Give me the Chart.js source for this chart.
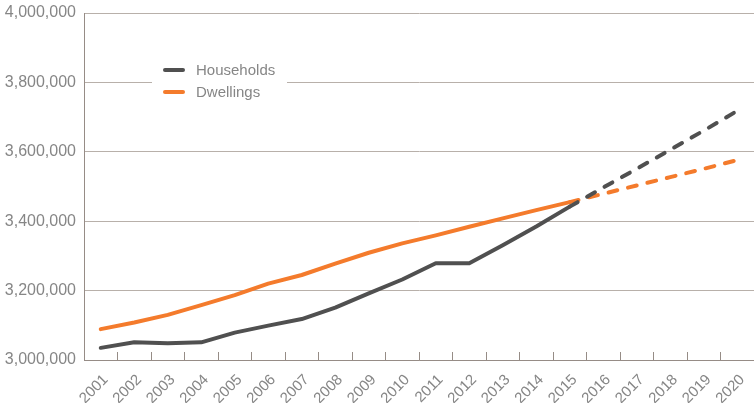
<!DOCTYPE html>
<html>
<head>
<meta charset="utf-8">
<script src="https://cdn.jsdelivr.net/npm/chart.js@4.4.1/dist/chart.umd.min.js"></script>
<style>
  html, body { margin: 0; padding: 0; background: #ffffff; }
  #wrap { position: relative; width: 754px; height: 403px; }
</style>
</head>
<body>
<div id="wrap"><canvas id="housingChart"></canvas></div>
<script>
// Years on the x axis; values from 2016 on are projections (drawn dashed)
const years = ['2001', '2002', '2003', '2004', '2005', '2006', '2007', '2008', '2009', '2010',
               '2011', '2012', '2013', '2014', '2015', '2016', '2017', '2018', '2019', '2020'];
const households = [3035000, 3051000, 3048000, 3051000, 3079000, 3099000, 3118000, 3151000, 3192000, 3232000,
                    3279000, 3279000, 3331000, 3385000, 3442000, 3497000, 3551000, 3606000, 3661000, 3718000];
const dwellings = [3089000, 3108000, 3130000, 3158000, 3187000, 3220000, 3245000, 3278000, 3309000, 3336000,
                   3359000, 3384000, 3408000, 3432000, 3455000, 3479000, 3503000, 3527000, 3551000, 3576000];
const yTicks = [3000000, 3200000, 3400000, 3600000, 3800000, 4000000];
const lastActual = 14; // index of 2015

const GREY_LINE = '#505050';
const ORANGE = '#f47b2c';
const GRID = '#b8b0aa';
const AXIS = '#968c86';
const TEXT = '#868686';
const FONT = '"Liberation Sans", Arial, sans-serif';

// dashed once a segment starts at or after the last actual year
const projectedDash = ctx => ctx.p0DataIndex >= lastActual ? [9, 11] : undefined;

// legend drawn inside the plot, on a white box over the gridline
const insideLegend = {
  id: 'insideLegend',
  beforeDatasetsDraw(chart) {
    const ctx = chart.ctx;
    const a = chart.chartArea;
    const x0 = a.left + 68, y0 = a.top + 45;
    ctx.save();
    ctx.fillStyle = '#ffffff';
    ctx.fillRect(x0, y0, 135, 46);
    chart.data.datasets.forEach((ds, i) => {
      const y = y0 + 12 + i * 22;
      ctx.strokeStyle = ds.borderColor;
      ctx.lineWidth = 4;
      ctx.lineCap = 'round';
      ctx.beginPath();
      ctx.moveTo(x0 + 13, y);
      ctx.lineTo(x0 + 31, y);
      ctx.stroke();
      ctx.fillStyle = TEXT;
      ctx.font = '15px ' + FONT;
      ctx.textBaseline = 'middle';
      ctx.fillText(ds.label, x0 + 44, y + 1);
    });
    ctx.restore();
  }
};

const ctx = document.getElementById('housingChart').getContext('2d');
new Chart(ctx, {
  type: 'line',
  data: {
    labels: years,
    datasets: [{
      label: 'Households',
      data: households,
      borderColor: GREY_LINE,
      borderWidth: 4,
      segment: { borderDash: projectedDash }
    }, {
      label: 'Dwellings',
      data: dwellings,
      borderColor: ORANGE,
      borderWidth: 4,
      segment: { borderDash: projectedDash }
    }]
  },
  options: {
    responsive: true,
    maintainAspectRatio: false,
    animation: false,
    layout: { padding: { top: 13, right: 0, bottom: 0, left: 0 } },
    elements: {
      point: { radius: 0, hoverRadius: 0 },
      line: { tension: 0, borderJoinStyle: 'round', borderCapStyle: 'round' }
    },
    plugins: {
      legend: { display: false },
      tooltip: { enabled: false }
    },
    scales: {
      x: {
        offset: true,
        grid: { offset: true, drawOnChartArea: false, tickLength: -8, color: AXIS },
        border: { color: AXIS },
        ticks: {
          minRotation: 45, maxRotation: 45, padding: 19, labelOffset: 5, autoSkip: false,
          color: TEXT, font: { family: FONT, size: 15 }
        },
        afterFit(s) { s.height = 43; s.paddingLeft = 0; s.paddingRight = 0; }
      },
      y: {
        min: 3000000,
        max: 4000000,
        afterBuildTicks(s) { s.ticks = yTicks.map(v => ({ value: v })); },
        grid: { color: GRID, drawTicks: false },
        border: { color: AXIS },
        ticks: {
          padding: 8, color: TEXT, font: { family: FONT, size: 16 },
          callback: v => v.toLocaleString('en-US')
        },
        afterFit(s) { s.width = 84; s.paddingTop = 0; s.paddingBottom = 0; }
      }
    }
  },
  plugins: [insideLegend]
});
</script>
</body>
</html>
